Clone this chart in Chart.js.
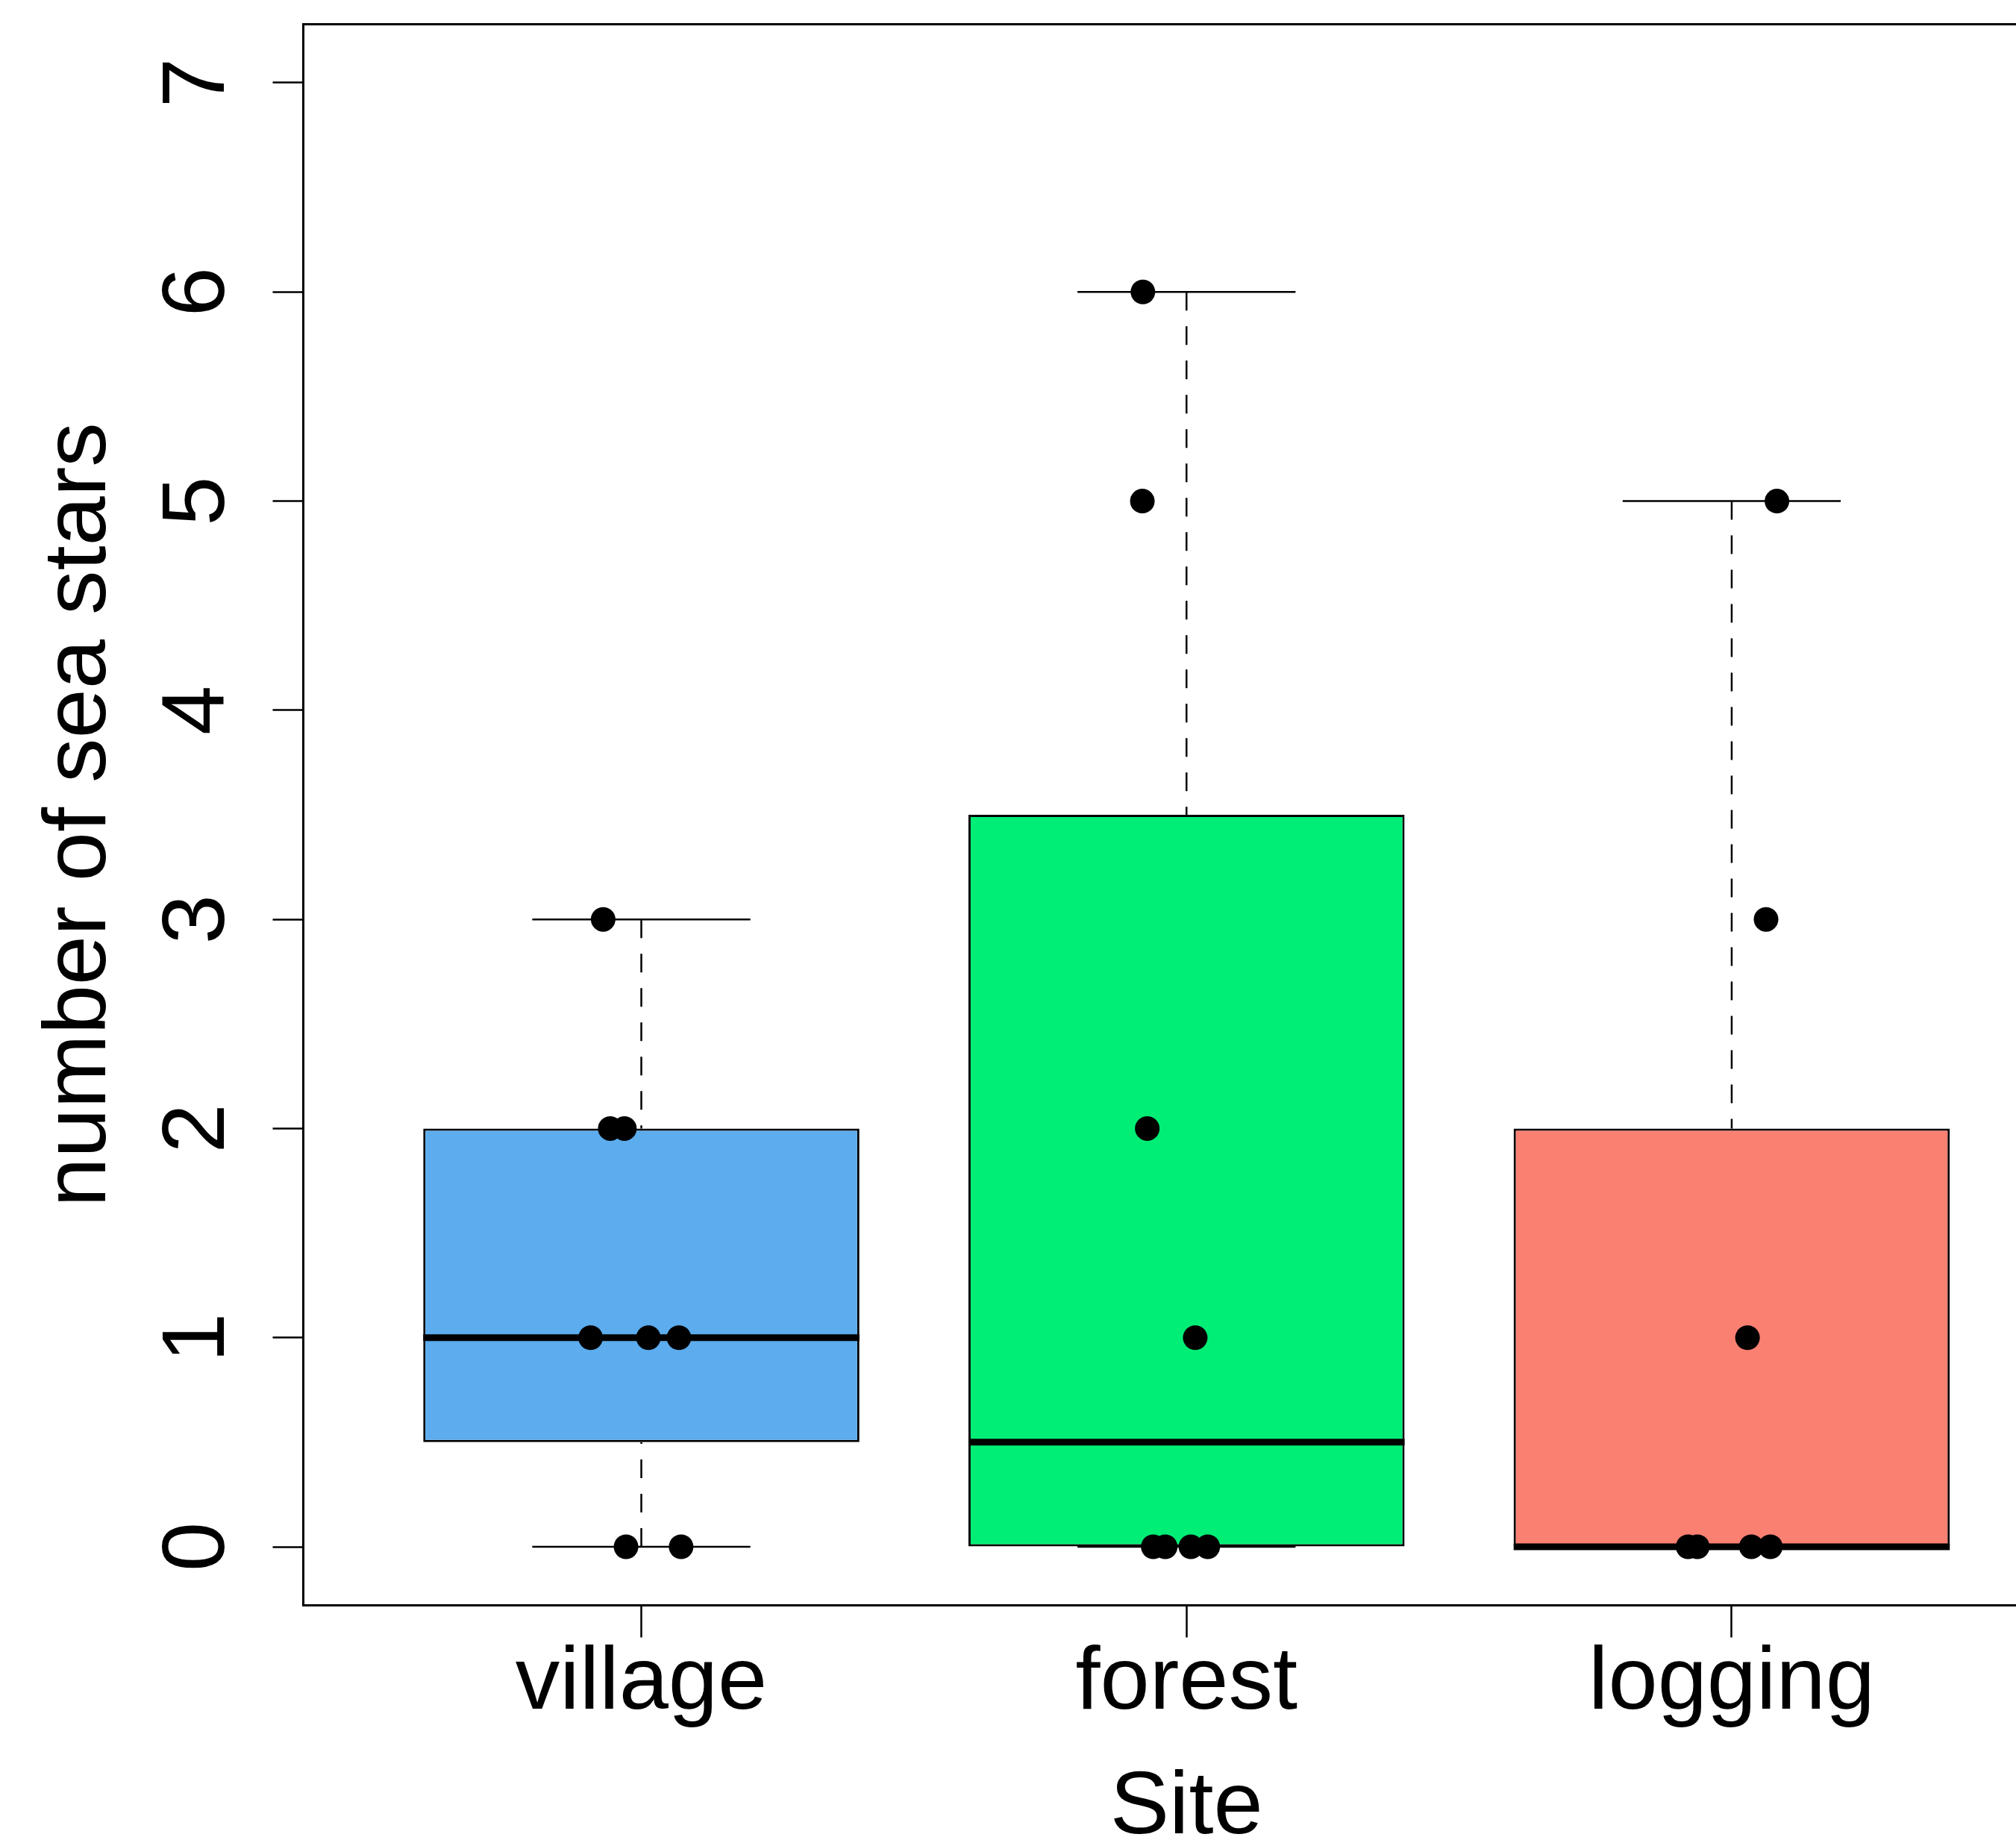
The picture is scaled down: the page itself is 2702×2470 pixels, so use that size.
<!DOCTYPE html>
<html><head><meta charset="utf-8">
<script src="https://cdn.jsdelivr.net/npm/chart.js@4.4.1/dist/chart.umd.min.js"></script>
<style>
html,body{margin:0;padding:0;background:#fff;overflow:hidden;}
#wrap{width:2702px;height:2470px;overflow:hidden;position:relative;background:#fff;}
canvas{display:block;}
</style></head><body>
<div id="wrap"><canvas id="c" width="2774" height="2470" style="width:2774px;height:2470px"></canvas></div>
<script>
// ---- data ----
const categories = ['village', 'forest', 'logging'];
const positions = [1, 2, 3];
const yTicks = [0, 1, 2, 3, 4, 5, 6, 7];
const q1 = [0.5, 0, 0];
const medians = [1, 0.5, 0];
const q3 = [2, 3.5, 2];
const whiskerLow = [0, 0, 0];
const whiskerHigh = [3, 6, 5];
const boxColors = ['#5CACEE', '#00EE76', '#FA8072'];
const villageX = [0.930, 0.943, 0.969, 0.907, 1.013, 1.069, 0.972, 1.073];
const villageY = [3, 2, 2, 1, 1, 1, 0, 0];
const forestX = [1.920, 1.919, 1.928, 2.016, 1.939, 1.961, 2.008, 2.039];
const forestY = [6, 5, 2, 1, 0, 0, 0, 0];
const loggingX = [3.083, 3.063, 3.029, 2.920, 2.937, 3.036, 3.071];
const loggingY = [5, 3, 1, 0, 0, 0, 0];

const FONT = "'Liberation Sans', Arial, Helvetica, sans-serif";
const BOX_HALF = 0.4, CAP_HALF = 0.2;

function segs(list) {
  const out = [];
  list.forEach(s => { out.push({x: s[0], y: s[1]}, {x: s[2], y: s[3]}, {x: s[2], y: null}); });
  return out;
}
const pts = (xs, ys) => xs.map((x, i) => ({x, y: ys[i]}));

const boxData = positions.map((x, i) => ({x, y: [q1[i], q3[i]]}));
const medianData = segs(positions.map((x, i) => [x - BOX_HALF, medians[i], x + BOX_HALF, medians[i]]));
const whiskerData = segs(positions.flatMap((x, i) => [[x, whiskerHigh[i], x, q3[i]], [x, whiskerLow[i], x, q1[i]]]));
const capData = segs(positions.flatMap((x, i) => [[x - CAP_HALF, whiskerHigh[i], x + CAP_HALF, whiskerHigh[i]], [x - CAP_HALF, whiskerLow[i], x + CAP_HALF, whiskerLow[i]]]));

const lineDs = (data, width, dash, order) => ({
  type: 'line', data, borderColor: '#000', borderWidth: width, borderDash: dash,
  pointRadius: 0, fill: false, tension: 0, spanGaps: false, order, borderCapStyle: 'butt'
});
const pointDs = (data) => ({
  type: 'scatter', data, pointRadius: 16.5, pointBackgroundColor: '#000',
  pointBorderWidth: 0, showLine: false, order: 0
});

const framePlugin = {
  id: 'frame',
  afterDraw(chart) {
    const {ctx, chartArea: a} = chart;
    ctx.save();
    ctx.strokeStyle = '#000';
    ctx.lineWidth = 3;
    ctx.strokeRect(a.left, a.top, a.right - a.left, a.bottom - a.top);
    ctx.restore();
  }
};

new Chart(document.getElementById('c'), {
  type: 'bar',
  data: {
    datasets: [
      {type: 'bar', data: boxData, backgroundColor: boxColors, borderColor: '#000', borderWidth: 3,
       borderSkipped: false, categoryPercentage: 1, barPercentage: 0.8, order: 4},
      lineDs(whiskerData, 2.5, [25, 21], 3),
      lineDs(capData, 2.5, [], 2),
      lineDs(medianData, 9, [], 1),
      pointDs(pts(villageX, villageY)),
      pointDs(pts(forestX, forestY)),
      pointDs(pts(loggingX, loggingY))
    ]
  },
  options: {
    responsive: false, animation: false, devicePixelRatio: 1,
    layout: {autoPadding: false, padding: {top: 32.5, left: 0, right: 0, bottom: 0}},
    plugins: {legend: {display: false}, tooltip: {enabled: false}},
    scales: {
      x: {
        type: 'linear', position: 'bottom', min: 0.38, max: 3.62, offset: false, bounds: 'data',
        afterBuildTicks: s => { s.ticks = positions.map(v => ({value: v})); },
        afterFit: s => { s.height = 318.5; s.paddingLeft = 0; s.paddingRight = 0; },
        ticks: {autoSkip: false, maxRotation: 0, minRotation: 0, padding: 3, color: '#000',
          font: {family: FONT, size: 119, lineHeight: 1},
          callback: v => categories[positions.indexOf(v)]},
        grid: {display: true, drawOnChartArea: false, drawTicks: true, tickLength: 43, tickWidth: 2.5, tickColor: '#000', offset: false},
        border: {display: false},
        title: {display: true, text: 'Site', color: '#000', font: {family: FONT, size: 119, lineHeight: 0.5}, padding: {top: 0, bottom: 16.25}}
      },
      y: {
        type: 'linear', position: 'left', min: -0.28, max: 7.28, bounds: 'data',
        afterBuildTicks: s => { s.ticks = yTicks.map(v => ({value: v})); },
        afterFit: s => { s.width = 406.5; s.paddingTop = 0; s.paddingBottom = 0; },
        ticks: {autoSkip: false, minRotation: 90, maxRotation: 90, crossAlign: 'center', padding: 65.4, color: '#000',
          font: {family: FONT, size: 119, lineHeight: 1},
          callback: v => String(v)},
        grid: {display: true, drawOnChartArea: false, drawTicks: true, tickLength: 41, tickWidth: 2.5, tickColor: '#000'},
        border: {display: false},
        title: {display: true, text: 'number of sea stars', color: '#000', font: {family: FONT, size: 119, lineHeight: 1}, padding: {top: 48.5, bottom: 0}}
      }
    }
  },
  plugins: [framePlugin]
});
</script>
</body></html>
